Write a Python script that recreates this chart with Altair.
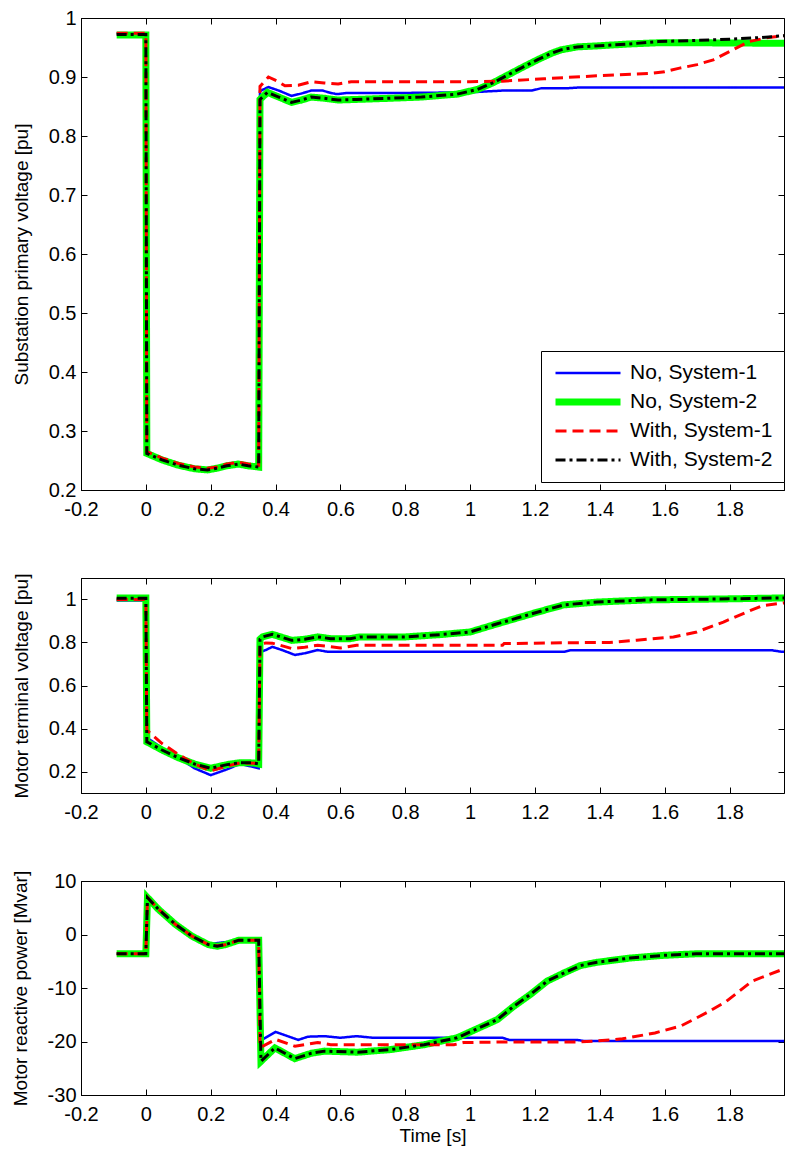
import altair as alt
import pandas as pd

FONT = "Liberation Sans"

series_names = ["No, System-1", "No, System-2", "With, System-1", "With, System-2"]
series_colors = ["#0000ff", "#00ff00", "#ff0000", "#000000"]
series_dash = [[1, 0], [1, 0], [11, 6], [10, 4, 3, 4]]
series_width = [2.5, 7, 3, 3]

x_ticks = [-0.2, 0, 0.2, 0.4, 0.6, 0.8, 1.0, 1.2, 1.4, 1.6, 1.8]

# ---------------- Panel 1: Substation primary voltage [pu] ----------------
p1_blue_t = [-0.09, 0.0, 0.003, 0.05, 0.1, 0.15, 0.19, 0.22, 0.25, 0.285, 0.315, 0.348,
             0.352, 0.378, 0.41, 0.449, 0.48, 0.51, 0.545, 0.57, 0.59, 0.62, 0.8, 1.0,
             1.1, 1.19, 1.22, 1.3, 1.33, 1.99]
p1_blue_v = [0.974, 0.974, 0.263, 0.252, 0.243, 0.237, 0.235, 0.238, 0.242, 0.245, 0.242, 0.24,
             0.876, 0.883, 0.877, 0.868, 0.872, 0.877, 0.877, 0.873, 0.871, 0.873, 0.873, 0.874,
             0.877, 0.877, 0.881, 0.881, 0.882, 0.882]
p1_green_t = [-0.09, 0.0, 0.003, 0.05, 0.1, 0.15, 0.19, 0.22, 0.25, 0.285, 0.315, 0.348,
              0.352, 0.375, 0.41, 0.449, 0.48, 0.51, 0.55, 0.593, 0.65, 0.756, 0.85, 0.96,
              1.023, 1.07, 1.115, 1.16, 1.207, 1.25, 1.28, 1.33, 1.4, 1.49, 1.58, 1.7, 1.99]
p1_green_v = [0.971, 0.971, 0.262, 0.251, 0.242, 0.236, 0.234, 0.237, 0.241, 0.244, 0.241, 0.239,
              0.862, 0.874, 0.866, 0.857, 0.861, 0.866, 0.864, 0.861, 0.862, 0.864, 0.866, 0.871,
              0.879, 0.89, 0.903, 0.916, 0.929, 0.94, 0.946, 0.951, 0.953, 0.956, 0.958, 0.958, 0.957]
p1_red_t = [-0.09, 0.0, 0.003, 0.05, 0.1, 0.15, 0.19, 0.22, 0.25, 0.285, 0.315, 0.348,
            0.352, 0.378, 0.405, 0.429, 0.47, 0.51, 0.55, 0.593, 0.633, 0.8, 1.0, 1.1,
            1.228, 1.39, 1.554, 1.6, 1.646, 1.7, 1.75, 1.81, 1.86, 1.92, 1.99]
p1_red_v = [0.974, 0.974, 0.265, 0.254, 0.245, 0.239, 0.237, 0.239, 0.244, 0.247, 0.244, 0.242,
            0.884, 0.9, 0.893, 0.885, 0.886, 0.892, 0.89, 0.888, 0.892, 0.892, 0.892, 0.893,
            0.897, 0.902, 0.906, 0.909, 0.915, 0.921, 0.929, 0.946, 0.96, 0.967, 0.971]
p1_black_t = [-0.09, 0.0, 0.003, 0.05, 0.1, 0.15, 0.19, 0.22, 0.25, 0.285, 0.315, 0.348,
              0.352, 0.375, 0.41, 0.449, 0.48, 0.51, 0.55, 0.593, 0.65, 0.756, 0.85, 0.96,
              1.023, 1.07, 1.115, 1.16, 1.207, 1.25, 1.28, 1.33, 1.4, 1.49, 1.58, 1.7, 1.8,
              1.9, 1.99]
p1_black_v = [0.972, 0.972, 0.262, 0.251, 0.242, 0.236, 0.234, 0.237, 0.241, 0.244, 0.241, 0.239,
              0.862, 0.874, 0.866, 0.857, 0.861, 0.866, 0.864, 0.861, 0.862, 0.864, 0.866, 0.871,
              0.879, 0.89, 0.903, 0.916, 0.929, 0.94, 0.946, 0.951, 0.953, 0.956, 0.96, 0.962,
              0.964, 0.967, 0.971]

# ---------------- Panel 2: Motor terminal voltage [pu] ----------------
p2_blue_t = [-0.09, 0.0, 0.003, 0.05, 0.1, 0.15, 0.2, 0.25, 0.29, 0.32, 0.348,
             0.352, 0.37, 0.39, 0.42, 0.46, 0.49, 0.53, 0.56, 1.29, 1.31, 1.93, 1.96, 1.99]
p2_blue_v = [0.995, 0.995, 0.357, 0.31, 0.265, 0.215, 0.183, 0.21, 0.235, 0.225, 0.215,
             0.755, 0.765, 0.78, 0.765, 0.742, 0.75, 0.765, 0.757, 0.757, 0.764, 0.764, 0.757, 0.757]
p2_green_t = [-0.09, 0.0, 0.003, 0.05, 0.1, 0.15, 0.2, 0.25, 0.29, 0.33, 0.348,
              0.352, 0.36, 0.39, 0.45, 0.49, 0.53, 0.57, 0.63, 0.66, 0.8, 0.91, 1.0,
              1.084, 1.207, 1.289, 1.391, 1.545, 1.8, 1.99]
p2_green_v = [1.007, 1.007, 0.338, 0.3, 0.264, 0.235, 0.215, 0.232, 0.241, 0.24, 0.235,
              0.815, 0.826, 0.838, 0.81, 0.815, 0.826, 0.818, 0.818, 0.826, 0.826, 0.837, 0.849,
              0.887, 0.941, 0.975, 0.988, 0.998, 1.003, 1.008]
p2_red_t = [-0.09, 0.0, 0.003, 0.05, 0.1, 0.15, 0.2, 0.25, 0.29, 0.348,
            0.352, 0.37, 0.39, 0.45, 0.49, 0.53, 0.6, 0.65, 1.1, 1.105, 1.288, 1.43,
            1.514, 1.627, 1.699, 1.781, 1.852, 1.903, 1.99]
p2_red_v = [1.0, 1.0, 0.392, 0.33, 0.28, 0.235, 0.203, 0.225, 0.24, 0.238,
            0.79, 0.798, 0.797, 0.772, 0.778, 0.787, 0.775, 0.787, 0.787, 0.795, 0.799, 0.8,
            0.811, 0.826, 0.849, 0.895, 0.941, 0.972, 0.988]
p2_black_t = p2_green_t
p2_black_v = [1.006, 1.006, 0.338, 0.3, 0.264, 0.235, 0.215, 0.232, 0.241, 0.24, 0.235,
              0.815, 0.826, 0.838, 0.81, 0.815, 0.826, 0.818, 0.818, 0.826, 0.826, 0.837, 0.849,
              0.887, 0.941, 0.975, 0.988, 0.998, 1.003, 1.008]

# ---------------- Panel 3: Motor reactive power [Mvar] ----------------
p3_blue_t = [-0.09, 0.0, 0.005, 0.039, 0.091, 0.142, 0.193, 0.22, 0.25, 0.287, 0.348,
             0.352, 0.36, 0.4, 0.47, 0.5, 0.55, 0.6, 0.65, 0.7, 1.1, 1.12, 1.33, 1.35, 1.99]
p3_blue_v = [-3.6, -3.6, 6.8, 4.7, 1.9, -0.3, -1.8, -1.6, -1.4, -1.06, -1.06,
             -19.8, -19.6, -18.2, -19.7, -19.1, -19.0, -19.3, -19.0, -19.3, -19.3, -19.7, -19.7,
             -19.9, -19.9]
p3_green_t = [-0.09, 0.0, 0.005, 0.039, 0.091, 0.142, 0.193, 0.22, 0.245, 0.287, 0.348,
              0.355, 0.398, 0.459, 0.51, 0.551, 0.653, 0.756, 0.858, 0.96, 0.982, 1.084, 1.135,
              1.186, 1.238, 1.289, 1.34, 1.391, 1.493, 1.596, 1.698, 1.99]
p3_green_v = [-3.6, -3.6, 6.9, 4.7, 1.9, -0.3, -1.9, -2.2, -1.9, -1.06, -1.06,
              -23.7, -21.2, -23.2, -22.2, -21.8, -22.0, -21.5, -20.6, -19.3, -18.7, -15.9, -13.4,
              -11.2, -8.7, -7.2, -5.8, -5.2, -4.4, -3.9, -3.6, -3.6]
p3_red_t = [-0.09, 0.0, 0.005, 0.039, 0.091, 0.142, 0.193, 0.22, 0.245, 0.287, 0.348,
            0.352, 0.36, 0.4, 0.46, 0.53, 0.57, 0.95, 0.98, 1.084, 1.33, 1.39, 1.47, 1.57,
            1.65, 1.73, 1.79, 1.87, 1.99]
p3_red_v = [-3.6, -3.6, 6.9, 4.7, 1.9, -0.3, -1.9, -2.1, -1.9, -1.06, -1.06,
            -21.0, -20.9, -19.6, -20.9, -20.2, -20.6, -20.6, -20.2, -20.1, -20.1, -19.9, -19.5,
            -18.4, -17.1, -14.6, -12.5, -8.7, -5.9]
p3_black_t = p3_green_t
p3_black_v = p3_green_v


def make_df(ts, vs):
    rows = []
    for name, t_list, v_list in zip(series_names, ts, vs):
        for i, (t, v) in enumerate(zip(t_list, v_list)):
            rows.append({"series": name, "t": t, "v": v, "i": i})
    return pd.DataFrame(rows)


df1 = make_df([p1_blue_t, p1_green_t, p1_red_t, p1_black_t],
              [p1_blue_v, p1_green_v, p1_red_v, p1_black_v])
df2 = make_df([p2_blue_t, p2_green_t, p2_red_t, p2_black_t],
              [p2_blue_v, p2_green_v, p2_red_v, p2_black_v])
df3 = make_df([p3_blue_t, p3_green_t, p3_red_t, p3_black_t],
              [p3_blue_v, p3_green_v, p3_red_v, p3_black_v])

TICK_IN = {"expr": "-6"}
WIDTH = 703
X_DOMAIN = [-0.2, 1.968]
MINUS_FIX = "replace(datum.label, '\u2212', '-')"


def panel(df, ytitle, ydom, yvals, yfmt, height, legend, xtitle):
    xscale = alt.Scale(domain=X_DOMAIN, nice=False, zero=False)
    yscale = alt.Scale(domain=ydom, nice=False, zero=False)
    xaxis = alt.Axis(values=x_ticks, format=".1~f", labelExpr=MINUS_FIX, title=xtitle,
                     grid=False, tickSize=TICK_IN, labelPadding=15, labelFlush=False,
                     titlePadding=2)
    yaxis = alt.Axis(values=yvals, format=yfmt, labelExpr=MINUS_FIX, title=ytitle, grid=False,
                     tickSize=TICK_IN, labelPadding=11, titlePadding=17)
    layers = []
    for name in series_names:
        layers.append(
            alt.Chart(df).transform_filter(alt.datum.series == name)
            .mark_line(clip=True)
            .encode(
                x=alt.X("t:Q", scale=xscale, axis=xaxis),
                y=alt.Y("v:Q", scale=yscale, axis=yaxis),
                color=alt.Color("series:N", scale=alt.Scale(domain=series_names, range=series_colors),
                                legend=legend),
                strokeDash=alt.StrokeDash("series:N",
                                          scale=alt.Scale(domain=series_names, range=series_dash),
                                          legend=legend),
                strokeWidth=alt.StrokeWidth("series:N",
                                            scale=alt.Scale(type="ordinal", domain=series_names,
                                                            range=series_width),
                                            legend=legend),
                order=alt.Order("i:Q"),
            )
        )
    lines = alt.layer(*layers)
    frame = alt.Chart(df).mark_point(opacity=0, size=0, clip=True).encode(
        x=alt.X("t:Q", scale=xscale,
                axis=alt.Axis(orient="top", values=x_ticks, labels=False, title=None,
                              grid=False, domain=False, tickSize=TICK_IN,
                              minExtent=0, maxExtent=0)),
        y=alt.Y("v:Q", scale=yscale,
                axis=alt.Axis(orient="right", values=yvals, labels=False, title=None,
                              grid=False, domain=False, tickSize=TICK_IN,
                              minExtent=0, maxExtent=0)),
    )
    return alt.layer(lines, frame).resolve_axis(x="independent", y="independent").properties(
        width=WIDTH, height=height)


legend1 = alt.Legend(title=None, orient="none", legendX=460, legendY=333, padding=11,
                     strokeColor="black", fillColor="white", symbolType="stroke",
                     symbolSize=4225, clipHeight=22, labelFont=FONT, labelFontSize=21,
                     labelOffset=6, labelColor="black", rowPadding=7)

c1 = panel(df1, "Substation primary voltage [pu]", [0.2, 1.0],
           [0.2, 0.3, 0.4, 0.5, 0.6, 0.7, 0.8, 0.9, 1.0], ".1~f", 472, legend1, None)
c2 = panel(df2, "Motor terminal voltage [pu]", [0.1, 1.1],
           [0.2, 0.4, 0.6, 0.8, 1.0], ".1~f", 215, None, None)
c3 = panel(df3, "Motor reactive power [Mvar]", [-30, 10],
           [-30, -20, -10, 0, 10], "d", 214, None, "Time [s]")

chart = alt.vconcat(c1, c2, c3, spacing=88, bounds="flush").resolve_scale(
    color="independent", strokeDash="independent", strokeWidth="independent"
).properties(
    padding={"left": 2, "top": -1, "right": 0, "bottom": 0}
).configure_view(
    stroke="black", strokeWidth=1
).configure_axis(
    labelFont=FONT, titleFont=FONT, labelFontSize=20, titleFontSize=19,
    labelColor="black", titleColor="black", tickColor="black", domainColor="black",
    titleFontWeight="normal"
)

chart.save("out.html", embed_options={"renderer": "svg", "actions": False})
